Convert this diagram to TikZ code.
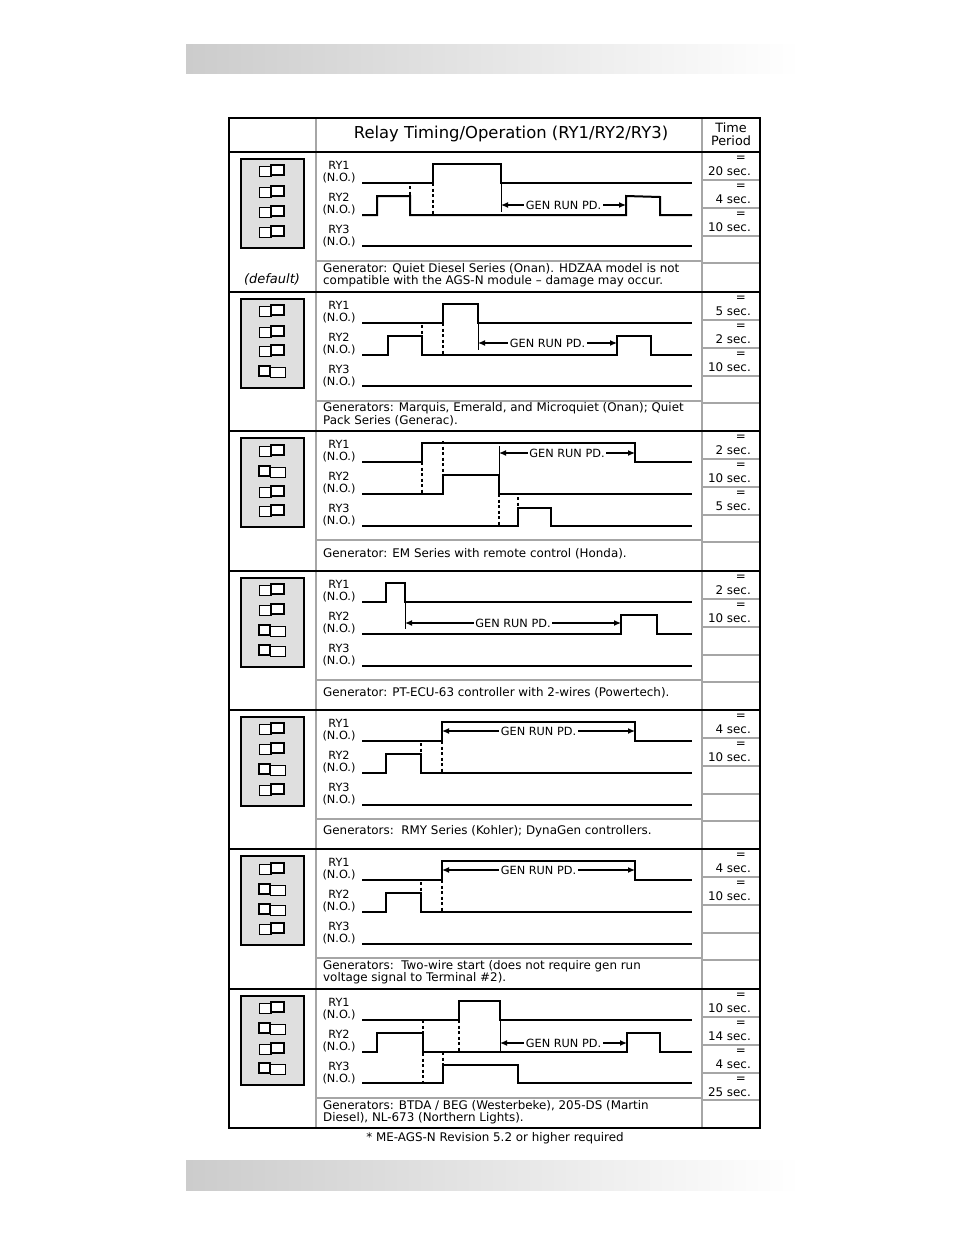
\documentclass[tikz,border=0pt]{standalone}
\usepackage{fontspec}
\setmainfont{DejaVu Sans}
\usetikzlibrary{arrows.meta}

\tikzset{
  wave/.style={line width=2pt},
  flat/.style={line width=2.5pt},
  cue/.style={line width=1.6pt, dash pattern=on 3pt off 2.5pt},
  edge/.style={line width=1pt},
  runpd/.style={{Latex[length=7pt,width=6pt]}-{Latex[length=7pt,width=6pt]}, line width=1.2pt},
  runlbl/.style={fill=white, inner sep=1.5pt, font=\fontsize{11.3}{12}\selectfont},
  relay/.style={align=center, inner sep=0pt, font=\fontsize{11.3}{12}\selectfont},
  note/.style={anchor=west, align=left, inner sep=0pt, font=\fontsize{11.9}{11.5}\selectfont},
  tval/.style={anchor=east, inner sep=0pt, font=\fontsize{11.9}{12}\selectfont},
  grid/.style={draw=gray!70, line width=1.5pt},
}

% one DIP switch: right position / left position
\newcommand{\swR}[1]{%
  \draw[line width=1pt, fill=white] (259,#1-5) rectangle (271,#1+5);
  \draw[line width=2.4pt, fill=white] (271,#1-6) rectangle (284,#1+4);}
\newcommand{\swL}[1]{%
  \draw[line width=2.4pt, fill=white] (259,#1-6) rectangle (270,#1+4);
  \draw[line width=1pt, fill=white] (270,#1-5) rectangle (285,#1+5);}

% common parts of one block (relative y)
\newcommand{\blockbase}{%
  \draw[line width=2pt, fill=gray!25] (241,7) rectangle (304,96);
  \node[relay] (r1) at (339,20) {RY1\\(N.O.)};
  \node[relay] (r2) at (339,52) {RY2\\(N.O.)};
  \node[relay] (r3) at (339,84) {RY3\\(N.O.)};
  \draw[grid] (316,109) -- (702,109);
  \foreach \k in {28,56,84,111} \draw[grid] (702,\k) -- (760,\k);}

\newcommand{\tcell}[2]{%
  \node[tval] at (746,#1*28+7) {=};
  \node[tval] at (751,#1*28+19) {#2 sec.};}

\begin{document}
\begin{tikzpicture}[x=1pt, y=-1pt]
\useasboundingbox (0,0) rectangle (954,1235);

% page bars
\shade[left color=black!20, right color=white] (186,44) rectangle (800,73);
\shade[left color=black!20, right color=white] (186,1160) rectangle (800,1190);

% header
\node[font=\fontsize{16.4}{17}\selectfont] (head) at (511,134) {Relay Timing/Operation (RY1/RY2/RY3)};
\node[align=center, inner sep=0pt, font=\fontsize{12.8}{13.5}\selectfont] (tp) at (731,134) {Time\\Period};

% block 1
\begin{scope}[shift={(0,152)}]
  \blockbase
  \swR{19} \swR{40} \swR{60} \swR{80}
  \node[font=\fontsize{13}{13}\selectfont\itshape] (dflt) at (272,127) {(default)};
  \draw[wave] (362,31) -- (433,31) -- (433,12) -- (501,12) -- (501,31) -- (692,31);
  \draw[wave] (362,63) -- (377,63) -- (377,44) -- (410,44) -- (410,63) -- (626,63) -- (626,44) -- (660,45) -- (660,63) -- (692,63);
  \draw[flat] (362,94) -- (692,94);
  \draw[cue] (410,34) -- (410,63);
  \draw[cue] (433,31) -- (433,63);
  \draw[edge] (501,31) -- (501,60);
  \coordinate (a1) at (501,53); \coordinate (b1) at (626,53);
  \draw[runpd] (a1) -- (b1) node[runlbl, midway] {GEN RUN PD.};
  \node[note] (n1) at (323,123) {Generator: Quiet Diesel Series (Onan). HDZAA model is not\\compatible with the AGS-N module -- damage may occur.};
  \tcell{0}{20} \tcell{1}{4} \tcell{2}{10}
\end{scope}

% block 2
\begin{scope}[shift={(0,292)}]
  \blockbase
  \swR{19} \swR{40} \swR{59} \swL{80}
  \draw[wave] (362,31) -- (443,31) -- (443,12) -- (478,12) -- (478,31) -- (692,31);
  \draw[wave] (362,63) -- (388,63) -- (388,44) -- (422,44) -- (422,63) -- (617,63) -- (617,44) -- (651,44) -- (651,63) -- (692,63);
  \draw[wave] (362,94) -- (692,94);
  \draw[cue] (422,33) -- (422,63);
  \draw[cue] (443,31) -- (443,63);
  \draw[edge] (478,31) -- (478,58);
  \coordinate (a2) at (478,51); \coordinate (b2) at (617,51);
  \draw[runpd] (a2) -- (b2) node[runlbl, midway] {GEN RUN PD.};
  \node[note] (n2) at (323,122) {Generators: Marquis, Emerald, and Microquiet (Onan); Quiet\\Pack Series (Generac).};
  \tcell{0}{5} \tcell{1}{2} \tcell{2}{10}
\end{scope}

% block 3
\begin{scope}[shift={(0,431)}]
  \blockbase
  \swR{20} \swL{41} \swR{61} \swR{80}
  \draw[wave] (362,31) -- (422,31) -- (422,12) -- (635,12) -- (635,31) -- (692,31);
  \draw[wave] (362,63) -- (443,63) -- (443,44) -- (499,44) -- (499,63) -- (692,63);
  \draw[wave] (362,95) -- (518,95) -- (518,77) -- (551,77) -- (551,95) -- (692,95);
  \draw[cue] (422,31) -- (422,63);
  \draw[cue] (443,10) -- (443,44);
  \draw[cue] (499,63) -- (499,95);
  \draw[cue] (518,66) -- (518,77);
  \draw[edge] (499,15) -- (499,44);
  \coordinate (a3) at (499,22); \coordinate (b3) at (635,22);
  \draw[runpd] (a3) -- (b3) node[runlbl, midway] {GEN RUN PD.};
  \node[note] (n3) at (323,123) {Generator: EM Series with remote control (Honda).};
  \tcell{0}{2} \tcell{1}{10} \tcell{2}{5}
\end{scope}

% block 4
\begin{scope}[shift={(0,571)}]
  \blockbase
  \swR{19} \swR{39} \swL{60} \swL{80}
  \draw[wave] (362,31) -- (386,31) -- (386,12) -- (405,12) -- (405,31) -- (692,31);
  \draw[wave] (362,63) -- (621,63) -- (621,44) -- (657,44) -- (657,63) -- (692,63);
  \draw[wave] (362,95) -- (692,95);
  \draw[edge] (405,31) -- (405,58);
  \coordinate (a4) at (405,52); \coordinate (b4) at (621,52);
  \draw[runpd] (a4) -- (b4) node[runlbl, midway] {GEN RUN PD.};
  \node[note] (n4) at (323,122) {Generator: PT-ECU-63 controller with 2-wires (Powertech).};
  \tcell{0}{2} \tcell{1}{10}
\end{scope}

% block 5
\begin{scope}[shift={(0,710)}]
  \blockbase
  \swR{19} \swR{39} \swL{60} \swR{80}
  \draw[wave] (362,31) -- (442,31) -- (442,12) -- (635,12) -- (635,31) -- (692,31);
  \draw[wave] (362,63) -- (386,63) -- (386,44) -- (421,44) -- (421,63) -- (692,63);
  \draw[flat] (362,95) -- (692,95);
  \draw[cue] (421,33) -- (421,63);
  \draw[cue] (442,31) -- (442,63);
  \coordinate (a5) at (442,21); \coordinate (b5) at (635,21);
  \draw[runpd] (a5) -- (b5) node[runlbl, midway] {GEN RUN PD.};
  \node[note] (n5) at (323,121) {Generators:\ \ RMY Series (Kohler); DynaGen controllers.};
  \tcell{0}{4} \tcell{1}{10}
\end{scope}

% block 6
\begin{scope}[shift={(0,849)}]
  \blockbase
  \swR{20} \swL{41} \swL{61} \swR{80}
  \draw[wave] (362,31) -- (442,31) -- (442,12) -- (635,12) -- (635,31) -- (692,31);
  \draw[wave] (362,63) -- (386,63) -- (386,44) -- (421,44) -- (421,63) -- (692,63);
  \draw[wave] (362,95) -- (692,95);
  \draw[cue] (421,33) -- (421,63);
  \draw[cue] (442,31) -- (442,63);
  \coordinate (a6) at (442,21); \coordinate (b6) at (635,21);
  \draw[runpd] (a6) -- (b6) node[runlbl, midway] {GEN RUN PD.};
  \node[note] (n6) at (323,123) {Generators:\ \ Two-wire start (does not require gen run\\voltage signal to Terminal \#2).};
  \tcell{0}{4} \tcell{1}{10}
\end{scope}

% block 7
\begin{scope}[shift={(0,989)}]
  \blockbase
  \swR{19} \swL{40} \swR{60} \swL{80}
  \draw[wave] (362,31) -- (459,31) -- (459,12) -- (500,12) -- (500,31) -- (692,31);
  \draw[wave] (362,63) -- (377,63) -- (377,44) -- (423,44) -- (423,63) -- (627,63) -- (627,44) -- (660,44) -- (660,63) -- (692,63);
  \draw[wave] (362,94) -- (443,94) -- (443,76) -- (518,76) -- (518,94) -- (692,94);
  \draw[cue] (423,31) -- (423,94);
  \draw[cue] (459,31) -- (459,63);
  \draw[cue] (443,63) -- (443,76);
  \draw[edge] (500,31) -- (500,62);
  \coordinate (a7) at (500,54); \coordinate (b7) at (627,54);
  \draw[runpd] (a7) -- (b7) node[runlbl, midway] {GEN RUN PD.};
  \node[note] (n7) at (323,123) {Generators: BTDA / BEG (Westerbeke), 205-DS (Martin\\Diesel), NL-673 (Northern Lights).};
  \tcell{0}{10} \tcell{1}{14} \tcell{2}{4} \tcell{3}{25}
\end{scope}

% table frame
\draw[grid] (316,118) -- (316,1128);
\draw[grid] (702,118) -- (702,1128);
\foreach \y in {152,292,431,571,710,849,989}
  \draw[line width=2.5pt] (229,\y) -- (760,\y);
\draw[line width=2pt] (229,118) rectangle (760,1128);

\node[font=\fontsize{11.9}{12}\selectfont] (foot) at (495,1138) {* ME-AGS-N Revision 5.2 or higher required};
\end{tikzpicture}
\end{document}
